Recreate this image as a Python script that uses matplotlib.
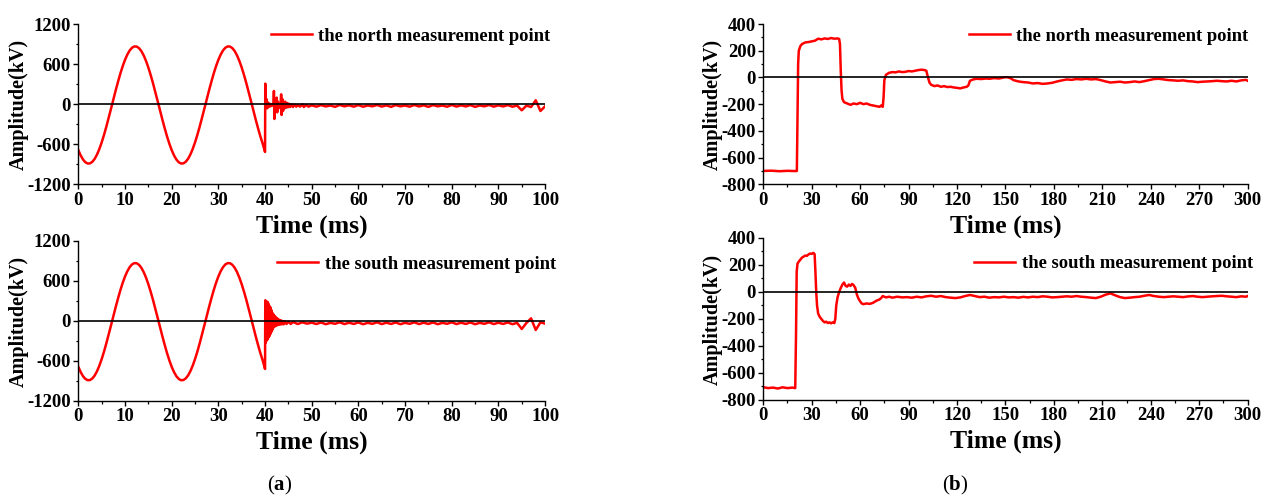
import numpy as np
import matplotlib.pyplot as plt
from matplotlib.ticker import MultipleLocator

# Fault-clearing voltage records at the north and south measurement points.
# (a) 0-100 ms window, (b) 0-300 ms window. Values read off the figure, in kV.

plt.rcParams['font.family'] = ['Liberation Serif', 'DejaVu Serif']
plt.rcParams['font.weight'] = 'bold'
plt.rcParams['axes.labelweight'] = 'bold'
plt.rcParams['axes.unicode_minus'] = False
plt.rcParams['mathtext.fontset'] = 'custom'
plt.rcParams['mathtext.bf'] = 'Liberation Serif:bold'

# ---- panel (a): pre-fault sine, sampled every 0.5 ms from 0 to 40 ms ----
t_sine = np.linspace(0, 40, 81)
pre_fault_kv = [
    -688, -767, -828, -869, -888, -886, -862, -818, -753, -670,
    -571, -458, -334, -202, -65, 73, 209, 339, 462, 572,
    668, 747, 808, 849, 868, 866, 842, 798, 733, 650,
    551, 438, 314, 182, 45, -93, -229, -359, -482, -592,
    -688, -767, -828, -869, -888, -886, -862, -818, -753, -670,
    -571, -458, -334, -202, -65, 73, 209, 339, 462, 572,
    668, 747, 808, 849, 868, 866, 842, 798, 733, 650,
    551, 438, 314, 182, 45, -93, -229, -359, -482, -592,
    -715,
]

# north: breaker transient after 40 ms
t_north_tr = [40.0, 40.05, 40.15, 40.3, 40.45, 40.6, 40.8, 41.0, 41.2, 41.5,
              41.8, 41.9, 42.0, 42.1, 42.2, 42.35, 42.5, 42.6, 42.75, 42.9,
              43.1, 43.3, 43.45, 43.55, 43.7, 43.85, 44.0, 44.15, 44.3, 44.5,
              44.7, 44.9, 45.1, 45.4, 45.7, 46.0, 46.3, 46.7, 47.0, 47.5,
              48.0, 48.3, 48.8, 49.3]
north_tr_kv = [-715, 310, -20, 80, -60, 30, -40, 10, -30, 0,
               -25, 200, -220, 60, -80, 20, 100, -120, 40, -60,
               0, -30, 150, -160, 80, -100, 20, -60, 40, -50,
               20, -45, 10, -40, 0, -40, -5, -35, -10, -35,
               0, -40, -10, -35]

# north: residual after 50 ms, 1 ms samples
t_tail = np.linspace(50, 100, 51)
north_tail_kv = [-15, -35, -12, -32, -18, -38, -10, -30, -15, -35,
                 -12, -36, -18, -30, -10, -34, -16, -38, -12, -30,
                 -18, -35, -10, -32, -15, -38, -12, -30, -18, -36,
                 -10, -34, -15, -32, -12, -38, -18, -30, -10, -35,
                 -15, -32, -12, -36, -18, -90, -20, -40, 60, -100,
                 -30]

# south: breaker transient after 40 ms
t_south_tr = [40.0, 40.05, 40.1, 40.2, 40.3, 40.4, 40.5, 40.6, 40.7, 40.8,
              40.9, 41.0, 41.1, 41.2, 41.3, 41.4, 41.5, 41.6, 41.7, 41.8,
              41.9, 42.0, 42.15, 42.3, 42.45, 42.6, 42.8, 43.0, 43.2, 43.4,
              43.6, 43.8, 44.0, 44.3, 44.6, 45.0, 45.5, 46.0, 47.0, 48.0,
              49.0]
south_tr_kv = [-720, 310, -330, 300, -300, 290, -280, 280, -250, 250,
               -230, 220, -200, 200, -170, 160, -140, 120, -110, 100,
               -90, 80, -80, 60, -70, 40, -60, 20, -55, 10,
               -50, 0, -50, -5, -45, -10, -45, -15, -45, -20,
               -40]

south_tail_kv = [-25, -45, -22, -48, -28, -42, -20, -46, -26, -44,
                 -22, -48, -28, -42, -20, -46, -26, -44, -22, -48,
                 -28, -42, -20, -46, -26, -44, -22, -48, -28, -42,
                 -20, -46, -26, -44, -22, -48, -28, -42, -20, -46,
                 -26, -44, -22, -48, -28, -120, -30, 40, -135, -20,
                 -40]

# ---- panel (b): 0-300 ms window ----
t_north_b = [0, 5, 10, 15, 20, 20.8, 21.2, 21.6, 22, 23,
             24, 26, 28, 30, 32, 34, 36, 38, 40, 42,
             44, 46, 47, 47.5, 48, 48.5, 49, 50, 52, 54,
             56, 58, 60, 62, 64, 66, 68, 70, 72, 73,
             74, 74.5, 75, 76, 78, 80, 82, 84, 86, 88,
             90, 92, 94, 96, 98, 100, 101, 102, 103, 104,
             106, 108, 110, 112, 114, 116, 118, 120, 122, 124,
             126, 127, 128, 130, 132, 135, 138, 140, 143, 146,
             149, 151, 153, 155, 158, 161, 164, 167, 170, 173,
             176, 179, 182, 185, 188, 191, 194, 197, 200, 203,
             206, 209, 212, 215, 218, 221, 224, 227, 230, 233,
             236, 239, 242, 245, 248, 251, 254, 257, 260, 263,
             266, 269, 272, 275, 278, 281, 284, 287, 290, 293,
             296, 299, 300]
north_b_kv = [-700, -698, -702, -699, -701, -700, -300, 100, 200, 235,
              250, 262, 265, 270, 275, 290, 285, 292, 288, 295,
              290, 292, 288, 250, 50, -100, -160, -185, -195, -205,
              -195, -200, -190, -200, -195, -205, -210, -215, -220, -210,
              -220, -150, -20, 20, 35, 40, 38, 45, 40, 42,
              48, 45, 50, 55, 58, 55, 50, 0, -40, -55,
              -65, -60, -70, -65, -72, -70, -75, -78, -82, -75,
              -70, -60, -25, -15, -10, -12, -8, -10, -5, -8,
              0, 2, -5, -20, -30, -35, -38, -45, -42, -48,
              -45, -40, -30, -22, -15, -18, -12, -15, -10, -15,
              -12, -20, -30, -38, -35, -32, -38, -35, -30, -35,
              -28, -20, -12, -10, -15, -20, -22, -25, -22, -28,
              -30, -35, -32, -30, -28, -25, -28, -30, -25, -30,
              -22, -18, -25]

t_south_b = [0, 3, 6, 9, 12, 15, 18, 19.8, 20.3, 20.7,
             21.2, 22, 23, 24, 25, 26, 27, 28, 29, 30,
             31, 31.8, 32.3, 32.8, 33.3, 34, 35, 36, 37, 38,
             39, 40, 41, 42, 43, 44, 44.6, 45.2, 46, 47,
             48, 49, 50, 51, 52, 53, 54, 55, 56, 57,
             58, 59, 60, 61, 62, 64, 66, 68, 70, 72,
             73, 74, 76, 78, 80, 83, 86, 89, 92, 95,
             98, 101, 104, 107, 110, 113, 116, 119, 122, 125,
             128, 131, 134, 137, 140, 143, 146, 149, 152, 155,
             158, 161, 164, 167, 170, 173, 176, 179, 182, 185,
             188, 191, 194, 197, 200, 203, 206, 209, 212, 215,
             218, 221, 224, 227, 230, 233, 236, 239, 242, 245,
             248, 251, 254, 257, 260, 263, 266, 269, 272, 275,
             278, 281, 284, 287, 290, 293, 296, 299, 300]
south_b_kv = [-705, -712, -708, -715, -706, -712, -708, -712, -300, 150,
              210, 225, 240, 255, 262, 270, 268, 278, 285, 282,
              290, 280, 150, 0, -100, -160, -185, -200, -215, -225,
              -220, -230, -225, -232, -225, -230, -200, -100, -40, 0,
              30, 55, 70, 45, 40, 55, 45, 60, 50, 30,
              -20, -50, -70, -85, -90, -85, -88, -80, -65, -55,
              -45, -30, -40, -35, -42, -35, -40, -38, -42, -35,
              -40, -32, -28, -35, -30, -38, -42, -45, -40, -30,
              -22, -30, -38, -35, -42, -38, -40, -35, -40, -38,
              -42, -36, -40, -35, -38, -32, -35, -40, -38, -35,
              -32, -35, -30, -35, -38, -42, -45, -35, -20, -10,
              -25, -38, -45, -42, -38, -35, -28, -22, -30, -35,
              -38, -35, -32, -35, -38, -33, -30, -35, -38, -35,
              -32, -30, -28, -32, -35, -38, -32, -35, -30]


def style_axes(ax, xmax, xstep, ylim, ystep):
    ax.spines['top'].set_visible(False)
    ax.spines['right'].set_visible(False)
    for s in ('left', 'bottom'):
        ax.spines[s].set_linewidth(1.0)
    ax.set_xlim(0, xmax)
    ax.set_ylim(*ylim)
    ax.xaxis.set_major_locator(MultipleLocator(xstep))
    ax.xaxis.set_minor_locator(MultipleLocator(xstep / 2))
    ax.yaxis.set_major_locator(MultipleLocator(ystep))
    ax.yaxis.set_minor_locator(MultipleLocator(ystep / 2))
    ax.tick_params(which='major', direction='out', length=3.8, width=1.0,
                   labelsize=13.5, pad=1.5)
    ax.tick_params(which='minor', direction='out', length=1.8, width=0.9)
    ax.axhline(0, color='black', lw=1.2, zorder=3)
    ax.set_xlabel('Time (ms)', fontsize=18.5, labelpad=4)
    ax.set_ylabel('Amplitude(kV)', fontsize=14.5, labelpad=-1)


def add_legend(ax, label, anchor):
    ax.legend([label], loc='center right', bbox_to_anchor=anchor, frameon=False,
              fontsize=13.4, handlelength=2.2, handletextpad=0.35,
              borderpad=0, borderaxespad=0)


fig = plt.figure(figsize=(12.7, 4.98), dpi=100)
ax_an = fig.add_axes([0.0617, 0.6299, 0.3675, 0.3213])
ax_as = fig.add_axes([0.0617, 0.1948, 0.3675, 0.3213])
ax_bn = fig.add_axes([0.6010, 0.6299, 0.3814, 0.3219])
ax_bs = fig.add_axes([0.6010, 0.1968, 0.3814, 0.3253])

red = '#ff0000'

ax_an.plot(np.concatenate([t_sine, t_north_tr, t_tail]),
           np.concatenate([pre_fault_kv, north_tr_kv, north_tail_kv]),
           color=red, lw=1.8)
ax_as.plot(np.concatenate([t_sine, t_south_tr, t_tail]),
           np.concatenate([pre_fault_kv, south_tr_kv, south_tail_kv]),
           color=red, lw=1.8)
ax_bn.plot(t_north_b, north_b_kv, color=red, lw=1.8)
ax_bs.plot(t_south_b, south_b_kv, color=red, lw=1.8)

for ax in (ax_an, ax_as):
    style_axes(ax, 100, 10, (-1200, 1200), 600)
for ax in (ax_bn, ax_bs):
    style_axes(ax, 300, 30, (-800, 400), 200)

add_legend(ax_an, 'the north measurement point', (1.0115, 0.924))
add_legend(ax_as, 'the south measurement point', (1.023, 0.854))
add_legend(ax_bn, 'the north measurement point', (1.002, 0.925))
add_legend(ax_bs, 'the south measurement point', (1.011, 0.84))

fig.text(0.2205, 0.026, r'($\mathbf{a}$)', ha='center', va='center',
         fontsize=15, fontweight='normal')
fig.text(0.752, 0.026, r'($\mathbf{b}$)', ha='center', va='center',
         fontsize=15, fontweight='normal')

fig.savefig('out.png', dpi=100)
